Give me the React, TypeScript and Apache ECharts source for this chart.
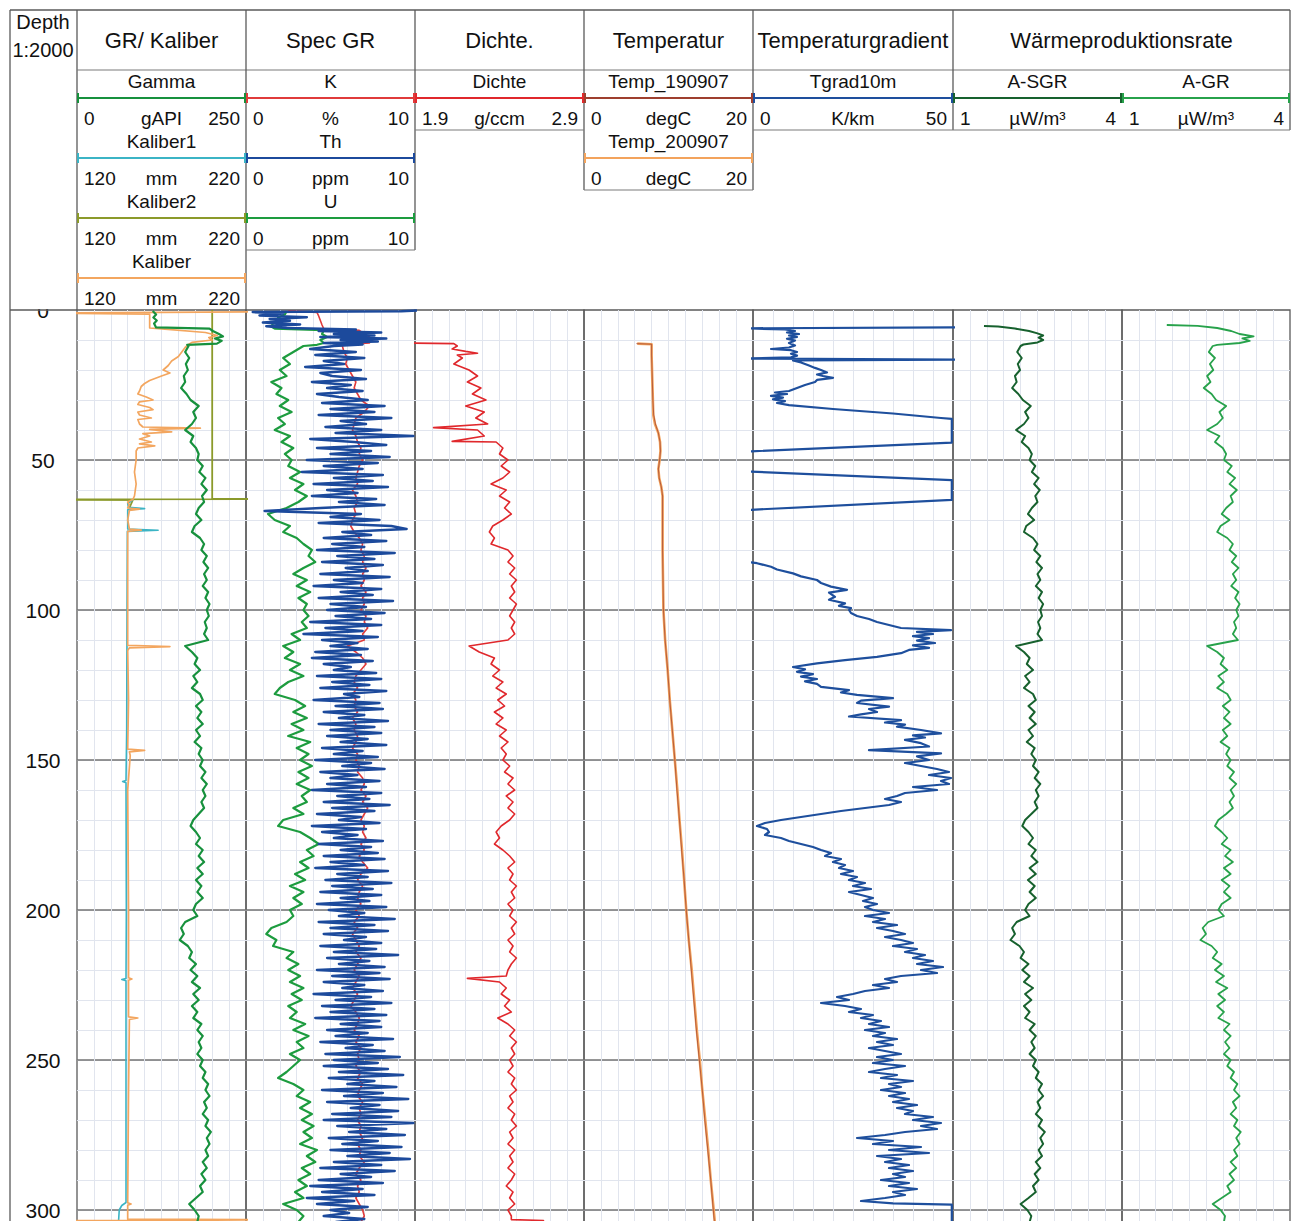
import React, { useEffect, useRef } from "react";
import * as echarts from "echarts";

type Pair = [number, number];

const FONT = "'Liberation Sans', Arial, Helvetica, sans-serif";

// ---------------- depth axis (m), scale 1:2000 ----------------
const DEPTH_MAX = 304;
const DEPTH_LABEL_STEP = 50;
const DEPTH_MINOR_STEP = 10;
const BODY_START = 12; // regularly sampled logs start here (2 m or 1 m spacing)

// ---------------- track titles ----------------
const TRACK_TITLES = ["GR/ Kaliber", "Spec GR", "Dichte.", "Temperatur", "Temperaturgradient", "Wärmeproduktionsrate"];

// ---------------- curve scales (header tick labels) ----------------
const GAMMA_SCALE = [0, 250];
const CALIPER_SCALE = [120, 220];
const SPEC_SCALE = [0, 10];
const DENSITY_SCALE = [1.9, 2.9];
const TEMP_SCALE = [0, 20];
const TGRAD_SCALE = [0, 50];
const HEAT_SCALE = [1, 4];

const CURVES = [
  { name: "Gamma", unit: "gAPI", scale: GAMMA_SCALE, track: 0, row: 0 },
  { name: "Kaliber1", unit: "mm", scale: CALIPER_SCALE, track: 0, row: 1 },
  { name: "Kaliber2", unit: "mm", scale: CALIPER_SCALE, track: 0, row: 2 },
  { name: "Kaliber", unit: "mm", scale: CALIPER_SCALE, track: 0, row: 3 },
  { name: "K", unit: "%", scale: SPEC_SCALE, track: 1, row: 0 },
  { name: "Th", unit: "ppm", scale: SPEC_SCALE, track: 1, row: 1 },
  { name: "U", unit: "ppm", scale: SPEC_SCALE, track: 1, row: 2 },
  { name: "Dichte", unit: "g/ccm", scale: DENSITY_SCALE, track: 2, row: 0 },
  { name: "Temp_190907", unit: "degC", scale: TEMP_SCALE, track: 3, row: 0 },
  { name: "Temp_200907", unit: "degC", scale: TEMP_SCALE, track: 3, row: 1 },
  { name: "Tgrad10m", unit: "K/km", scale: TGRAD_SCALE, track: 4, row: 0 },
  { name: "A-SGR", unit: "µW/m³", scale: HEAT_SCALE, track: 5, row: 0 },
  { name: "A-GR", unit: "µW/m³", scale: HEAT_SCALE, track: 6, row: 0 },
];

// ---------------- Gamma (gAPI) ----------------
const gammaHead: Pair[] = [
  [0.3, 112], [1.5, 117], [2.5, 113], [3.5, 118], [4.5, 114], [5.8, 117], [6.2, 196], [7, 201],
  [8, 210], [8.8, 216], [9.5, 204], [10.3, 214], [11.2, 207], [11.6, 163],
];
const gammaBody = [
  165, 160, 166, 161, 164, 158, 160, 154, 162, 168,
  180, 172, 176, 170, 160, 172, 168, 176, 180, 178,
  186, 181, 190, 184, 192, 185, 188, 180, 176, 184,
  174, 170, 182, 188, 184, 192, 187, 194, 188, 192,
  186, 194, 190, 196, 192, 195, 189, 192, 188, 194,
  160, 170, 178, 174, 182, 172, 178, 170, 182, 186,
  176, 184, 178, 186, 176, 182, 174, 184, 180, 186,
  182, 190, 184, 192, 186, 190, 184, 188, 180, 172,
  168, 176, 182, 176, 186, 180, 188, 178, 186, 176,
  184, 178, 186, 176, 172, 178, 160, 154, 158, 152,
  164, 170, 166, 176, 168, 178, 170, 182, 172, 180,
  170, 178, 172, 184, 178, 186, 180, 184, 178, 186,
  182, 190, 186, 194, 190, 196, 188, 192, 186, 194,
  190, 198, 192, 196, 190, 194, 186, 192, 184, 190,
  182, 186, 176, 166, 174, 180, 178,
];

// ---------------- calipers (mm) ----------------
const kaliberCurve: Pair[] = [
  [0.6, 240], [1.0, 100], [1.4, 163], [3, 163], [6, 163], [6.4, 172], [7.5, 196], [8.5, 203], [9.2, 198],
  [10, 200], [10.8, 188], [11.5, 186], [12.5, 184], [14, 182], [15.5, 180], [17, 176], [18.5, 174],
  [20, 171], [21, 175], [22, 170], [23.5, 163], [24.5, 160], [25.5, 158], [27, 157], [28, 156],
  [29, 161], [30, 165], [30.6, 157], [31.5, 156], [32.5, 163], [33.2, 165], [34, 156], [35, 157],
  [36, 164], [36.5, 156], [38, 157], [39, 159], [39.4, 193], [39.8, 163], [40.6, 176], [41.2, 159],
  [42, 163], [43, 157], [44, 164], [44.6, 157], [45.3, 166], [46, 156], [47, 155], [50, 155],
  [54, 154], [58, 155], [62, 154], [63.2, 153], [64, 150], [65, 151], [66, 150], [66.4, 157],
  [66.8, 151], [70, 150], [73, 151], [73.4, 158], [73.8, 150], [80, 150], [100, 150], [111.8, 150],
  [112.2, 175], [112.6, 151], [113.5, 150], [130, 150.5], [146.4, 150], [146.8, 160], [147.3, 151],
  [148.5, 151.5], [160, 150], [200, 150.5], [222.6, 150.5], [223, 152.5], [223.4, 150.5],
  [235.6, 150.5], [236, 156], [236.5, 151], [260, 150.5], [297.6, 150], [298, 152], [298.4, 150],
  [303, 150], [303.3, 240], [303.6, 100],
];
const kaliber1Curve: Pair[] = [
  [63.4, 153], [64.5, 150], [65.8, 150.5], [66.2, 160], [66.6, 150], [73, 150], [73.4, 168],
  [73.8, 149.8], [100, 149.6], [140, 149.4], [156.8, 149], [157.2, 147], [157.6, 149], [200, 149.2],
  [222.8, 149], [223.2, 146.5], [223.6, 149], [297.5, 149], [298.5, 146.5], [300, 145], [304.5, 144.5],
];
const kaliber2Curve: Pair[] = [
  [0, 200], [62.9, 200], [63.0, 245], [63.15, 95], [63.4, 153], [66, 151],
];

// ---------------- spectral gamma ----------------
const kHead: Pair[] = [
  [0.3, 2.5], [0.8, 4.2], [2, 4.3], [3.5, 4.4], [5, 4.5], [6.3, 4.6], [6.8, 6.7], [8, 7.0],
  [9, 7.3], [10, 7.5], [11, 7.3], [11.6, 5.8],
];
const kBody = [
  5.7, 5.8, 6.0, 5.9, 6.1, 6.3, 6.5, 6.4, 6.6, 6.8,
  7.3, 7.0, 6.5, 6.4, 6.3, 6.5, 6.6, 6.8, 6.7, 6.9,
  6.7, 6.6, 6.5, 6.6, 6.3, 6.5, 6.6, 6.4, 6.5, 6.3,
  6.2, 6.4, 6.7, 6.9, 6.8, 7.0, 6.9, 7.1, 6.9, 7.0,
  6.8, 7.1, 6.9, 7.0, 6.8, 7.1, 7.0, 7.2, 6.9, 7.0,
  6.0, 6.5, 6.9, 7.1, 6.8, 6.5, 6.4, 6.6, 6.3, 6.5,
  6.4, 6.6, 6.3, 6.5, 6.4, 6.6, 6.5, 6.3, 6.6, 6.5,
  6.7, 6.6, 6.9, 7.0, 6.8, 7.1, 6.9, 7.2, 7.0, 6.8,
  7.0, 6.9, 7.1, 6.8, 7.0, 6.7, 6.9, 7.2, 6.8, 6.6,
  6.9, 6.7, 6.6, 6.8, 6.5, 6.7, 6.4, 6.6, 6.3, 6.5,
  6.7, 6.5, 6.8, 6.6, 6.4, 6.7, 6.5, 6.3, 6.6, 6.4,
  6.2, 6.5, 6.7, 6.6, 6.4, 6.7, 6.5, 6.8, 6.6, 6.7,
  6.5, 6.8, 6.6, 6.9, 6.7, 6.6, 6.9, 6.7, 6.8, 6.6,
  6.8, 6.7, 6.9, 6.6, 6.8, 6.7, 7.0, 6.7, 6.5, 6.8,
  6.6, 6.7, 6.5, 6.7, 6.9, 7.0, 6.8,
];
const thHead: Pair[] = [
  [0, 10.6], [0.4, 9.2], [0.7, 0.4], [1.2, 2.2], [1.8, 0.8], [2.4, 3.6], [3, 1.4], [3.6, 2.6],
  [4.2, 1.0], [4.8, 3.2], [5.4, 1.2], [6.0, 2.4], [6.5, 6.5], [7, 4.3], [7.5, 8.0], [8, 5.2],
  [8.5, 7.6], [9, 4.4], [9.5, 8.3], [10, 5.6], [10.5, 7.8], [11, 4.6], [11.5, 6.9],
];
const thBody = [
  5.2, 3.8, 6.5, 4.1, 7.0, 4.6, 5.8, 3.5, 6.8, 4.4,
  5.1, 7.1, 3.9, 6.2, 4.8, 6.9, 4.2, 5.5, 7.2, 4.5,
  8.2, 5.0, 7.6, 4.3, 8.6, 5.6, 7.1, 4.7, 8.0, 5.3,
  9.9, 3.8, 6.4, 8.3, 4.2, 7.4, 5.0, 8.5, 3.6, 7.8,
  4.6, 6.9, 3.3, 8.1, 5.2, 7.5, 4.0, 8.4, 4.8, 6.6,
  3.9, 7.7, 5.5, 8.2, 4.4, 1.1, 6.8, 5.0, 7.9, 4.3,
  8.6, 9.5, 5.7, 7.4, 4.6, 8.3, 5.1, 7.0, 4.2, 8.8,
  5.4, 7.6, 4.5, 8.1, 5.9, 7.2, 4.4, 8.5, 5.2, 6.9,
  4.0, 8.0, 5.6, 7.5, 4.3, 8.7, 5.0, 7.1, 4.8, 8.2,
  5.3, 7.4, 3.8, 8.0, 4.7, 6.9, 3.4, 7.8, 4.5, 6.6,
  5.0, 7.2, 4.1, 6.8, 3.9, 7.5, 4.6, 6.2, 5.2, 7.7,
  4.2, 8.0, 5.1, 7.3, 4.4, 8.3, 5.8, 6.7, 4.0, 7.9,
  5.3, 8.1, 4.6, 7.0, 5.5, 8.4, 4.3, 7.6, 5.0, 8.0,
  4.8, 7.2, 5.6, 8.3, 4.5, 6.9, 5.2, 7.8, 4.1, 7.4,
  5.7, 8.2, 4.4, 6.6, 5.0, 7.9, 4.8, 7.1, 3.9, 8.0,
  5.4, 7.3, 4.6, 8.5, 5.1, 7.6, 4.2, 6.8, 5.5, 7.9,
  3.9, 7.1, 4.5, 6.6, 5.2, 8.1, 4.3, 7.4, 5.6, 7.8,
  4.6, 8.2, 5.0, 7.0, 4.1, 8.4, 5.4, 7.2, 4.7, 8.6,
  5.1, 7.5, 4.4, 8.0, 5.6, 7.3, 4.2, 8.3, 4.9, 7.0,
  5.5, 8.8, 4.3, 7.6, 5.0, 8.4, 4.6, 7.1, 5.8, 8.0,
  4.4, 7.7, 5.2, 9.0, 4.8, 7.3, 5.5, 8.2, 4.2, 7.9,
  5.1, 8.5, 4.6, 7.0, 5.7, 8.1, 4.0, 7.4, 5.3, 8.6,
  4.5, 7.6, 5.0, 8.3, 4.1, 7.9, 5.6, 8.0, 4.8, 7.2,
  5.3, 8.7, 4.4, 7.5, 5.9, 8.2, 4.7, 9.1, 5.2, 7.8,
  4.6, 8.4, 5.5, 9.3, 4.9, 7.6, 6.0, 8.9, 4.5, 8.1,
  5.8, 9.6, 4.8, 7.9, 6.2, 9.0, 5.1, 8.6, 4.6, 9.9,
  5.4, 8.3, 6.1, 9.4, 4.9, 7.8, 5.7, 9.2, 5.0, 8.5,
  6.0, 9.7, 5.2, 8.0, 4.4, 8.8, 5.6, 7.4, 4.3, 8.1,
  3.8, 6.9, 4.5, 7.6, 3.6, 6.4, 4.2, 7.2, 5.0, 6.1,
  4.6, 7.0, 5.3,
];
const uHead: Pair[] = [
  [0.4, 2.4], [1.5, 2.3], [2.5, 1.9], [3.5, 2.1], [4.5, 1.6], [5.5, 1.5], [6.2, 1.7], [6.7, 4.6],
  [8, 4.5], [9, 4.8], [10, 4.4], [11, 4.6], [11.6, 4.2],
];
const uBody = [
  3.4, 2.8, 2.2, 2.6, 2.0, 2.4, 1.5, 2.1, 1.8, 2.5,
  2.0, 2.7, 1.9, 2.3, 1.7, 2.6, 2.1, 2.8, 2.3, 2.7,
  2.5, 3.2, 2.6, 3.4, 2.9, 3.6, 3.1, 2.4, 1.3, 1.7,
  2.6, 2.2, 3.0, 3.4, 3.9, 3.7, 4.1, 3.4, 2.8, 3.6,
  3.0, 3.8, 3.1, 3.6, 3.4, 3.7, 3.3, 3.6, 2.7, 3.2,
  2.2, 2.8, 2.3, 3.2, 2.6, 3.4, 2.5, 2.0, 1.7, 2.9,
  3.5, 2.8, 3.6, 2.7, 3.4, 2.5, 3.8, 3.0, 3.7, 3.2,
  3.9, 3.1, 3.7, 3.0, 3.8, 3.3, 3.6, 2.8, 3.4, 2.2,
  1.9, 3.2, 3.8, 4.3, 3.6, 4.0, 3.2, 3.7, 2.9, 3.5,
  2.6, 3.4, 2.8, 3.3, 2.6, 2.8, 2.4, 1.5, 1.2, 1.8,
  1.6, 2.8, 2.4, 3.1, 2.5, 3.2, 2.6, 3.4, 2.7, 3.3,
  2.5, 3.0, 2.6, 3.5, 2.8, 3.7, 3.0, 3.4, 2.6, 3.2,
  2.8, 2.4, 1.9, 2.8, 3.4, 3.0, 3.8, 3.2, 3.9, 3.3,
  4.0, 3.4, 3.9, 3.2, 4.2, 3.6, 4.1, 3.3, 3.8, 3.1,
  3.6, 2.9, 3.4, 2.2, 3.0, 3.4, 3.1,
];

// ---------------- density (g/ccm), 2 m spacing from 16 m ----------------
const densityHead: Pair[] = [
  [11.0, 1.82], [11.2, 2.13], [12, 2.15], [13, 2.12], [13.8, 2.2], [14.4, 2.27], [15, 2.15],
];
const densityBody = [
  2.18, 2.13, 2.22, 2.27, 2.21, 2.29, 2.24, 2.32, 2.20, 2.31,
  2.26, 2.33, 2.27, 2.31, 2.38, 2.42, 2.40, 2.45, 2.41, 2.46,
  2.42, 2.35, 2.44, 2.40, 2.46, 2.43, 2.47, 2.42, 2.36, 2.34,
  2.37, 2.35, 2.45, 2.48, 2.45, 2.49, 2.46, 2.50, 2.47, 2.49,
  2.46, 2.50, 2.48, 2.46, 2.49, 2.47, 2.49, 2.45, 2.22, 2.28,
  2.37, 2.35, 2.40, 2.36, 2.42, 2.38, 2.44, 2.39, 2.43, 2.37,
  2.42, 2.38, 2.44, 2.40, 2.45, 2.41, 2.44, 2.42, 2.46, 2.43,
  2.48, 2.45, 2.49, 2.44, 2.48, 2.45, 2.49, 2.46, 2.41, 2.38,
  2.40, 2.37, 2.42, 2.46, 2.49, 2.45, 2.48, 2.46, 2.50, 2.47,
  2.49, 2.45, 2.48, 2.46, 2.50, 2.47, 2.49, 2.45, 2.48, 2.46,
  2.50, 2.47, 2.45, 2.44, 2.40, 2.44, 2.41, 2.46, 2.43, 2.47,
  2.39, 2.45, 2.49, 2.46, 2.50, 2.47, 2.49, 2.46, 2.48, 2.45,
  2.49, 2.47, 2.50, 2.46, 2.48, 2.45, 2.49, 2.47, 2.50, 2.46,
  2.48, 2.45, 2.49, 2.46, 2.48, 2.45, 2.49, 2.47, 2.44, 2.48,
  2.46, 2.49, 2.45, 2.47,
];
const densitySpikes: Pair[] = [
  [39.2, 2.01], [43.8, 2.12], [222.8, 2.21], [303.2, 2.47], [303.5, 2.66], [304.5, 2.66],
];

// ---------------- temperature logs (degC) ----------------
const temp190907Curve: Pair[] = [
  [11.2, 6.2], [11.4, 8.0], [15, 8.0], [20, 8.05], [25, 8.1], [30, 8.15], [35, 8.25], [38, 8.45],
  [41, 8.8], [44, 9.0], [47, 9.05], [50, 8.95], [53, 8.8], [56, 8.9], [59, 9.15], [62, 9.3],
  [70, 9.3], [80, 9.3], [90, 9.35], [100, 9.4], [110, 9.6], [120, 9.9], [130, 10.15], [140, 10.45],
  [150, 10.75], [160, 11.0], [170, 11.3], [180, 11.55], [190, 11.85], [200, 12.1], [210, 12.4],
  [220, 12.7], [230, 13.0], [240, 13.3], [250, 13.65], [260, 14.0], [270, 14.3], [280, 14.65],
  [290, 15.0], [300, 15.3], [304.5, 15.45],
];
const temp200907Curve: Pair[] = [
  [11.2, 6.3], [11.4, 8.0], [15, 8.0], [20, 8.05], [25, 8.1], [30, 8.15], [35, 8.2], [38, 8.4],
  [41, 8.8], [44, 9.0], [47, 9.05], [50, 8.95], [53, 8.8], [56, 8.9], [59, 9.15], [62, 9.3],
  [70, 9.3], [80, 9.3], [90, 9.35], [100, 9.4], [110, 9.6], [120, 9.9], [130, 10.15], [140, 10.45],
  [150, 10.75], [160, 11.05], [170, 11.3], [180, 11.6], [190, 11.85], [200, 12.1], [210, 12.4],
  [220, 12.75], [230, 13.05], [240, 13.35], [250, 13.7], [260, 14.0], [270, 14.35], [280, 14.7],
  [290, 15.0], [300, 15.35], [304.5, 15.5],
];

// ---------------- temperature gradient over 10 m (K/km) ----------------
const tgradHead: Pair[] = [
  [5.8, 52], [6.1, -2], [6.5, 8], [7, 10.5], [7.5, 8.5], [8, 11.5], [8.5, 9], [9, 11], [9.6, 8.5],
  [10.2, 10.5], [11, 9], [11.8, 10.5], [12.5, 9], [13, 4.5], [13.4, 9.5], [14, 11], [14.6, 9.5],
  [15.2, 11], [15.8, 9.5], [16.2, -2], [16.5, 52], [16.8, 10], [17.5, 12], [18.5, 14], [19.3, 15.5],
  [20, 17], [20.8, 18.5], [21.5, 16], [22, 17.5], [22.6, 20], [23.3, 16], [24, 15.5], [25, 13],
  [26, 11], [27, 9], [27.5, 5.5], [28, 8.5], [28.6, 4.5], [29.2, 7.5], [29.8, 5], [30.4, 8], [31, 6],
  [31.7, 9], [33, 20], [34.5, 35], [35.5, 43], [36, 47], [36.3, 49.7], [44.2, 49.7], [47.2, -2],
  [53.8, -2], [56.7, 49.7], [63.3, 49.7], [66.7, -2], [83.8, -2], [84.4, 1], [85.6, 4.5], [86.5, 6],
  [87.8, 10], [88.8, 12], [90, 16], [91, 17], [92.2, 19.5], [93.3, 23.5], [94.2, 19], [95.6, 20.5],
  [96.6, 19], [97.8, 23], [98.6, 21.5], [99.4, 24.5], [100, 24], [101, 24.5], [102, 26], [103, 29],
  [104, 31], [105, 34], [106, 37], [106.7, 49.5], [107.3, 41], [108, 45], [108.7, 40], [109.4, 44],
  [110.2, 41], [111, 45.5], [111.8, 40], [112.6, 44], [113.3, 39], [114.4, 37], [115.6, 31],
  [116.7, 23], [117.8, 16], [119, 10], [119.8, 13], [120.6, 11], [121.4, 15], [122.2, 12], [123, 16],
  [123.8, 13], [124.6, 16], [125.6, 17], [126.7, 24], [127.5, 22], [128.3, 26], [129.4, 35],
  [130.2, 27], [131, 26], [132.2, 34], [133, 29], [134, 31], [134.8, 27], [135.5, 24], [136.7, 37],
  [137.5, 33], [138.2, 38], [138.9, 36], [140, 42], [141.1, 47], [141.8, 40], [142.5, 43],
  [143.3, 38], [144.4, 42], [145.5, 44], [146.7, 29], [147.8, 47], [148.8, 41],
];
const TGRAD_BODY_START = 150;
const tgradBody = [
  44, 38, 42, 46, 49, 44, 49.5, 47, 49, 40,
  46, 38, 36, 33, 37, 34, 28, 22, 17, 12,
  7, 3, 1, 3.5, 4, 3, 7, 9, 12, 15,
  17, 19.5, 18, 22, 20, 23, 21.5, 25, 22, 26,
  24, 28, 25, 29.5, 24, 27, 30, 27.5, 31, 28,
  30, 34, 28, 33, 30, 36, 31, 35, 38, 33,
  37, 40, 35, 41, 38, 43, 40, 45, 41, 47.5,
  42, 46, 37, 33, 36, 30, 34, 28, 25, 21,
  24, 17, 23, 27, 24, 30, 27, 32, 29, 34,
  28, 33, 30, 36, 31, 35, 29, 33, 37, 31,
  35, 30, 38, 33, 29, 36, 32, 40, 34, 37,
  32, 38, 34, 39, 35, 41, 36, 40, 38, 45,
  40, 47, 42, 46, 38, 33, 26, 35, 30, 42,
  34, 44, 31, 37, 33, 39, 34, 40, 35, 38,
  32, 39, 34, 41, 35, 38, 33, 27,
];
const tgradTail: Pair[] = [[297.8, 35], [298.2, 49.7], [304.5, 49.7]];

// ---------------- heat production (µW/m³) ----------------
const asgrHead: Pair[] = [
  [5.3, 1.55], [5.5, 1.8], [6.2, 2.1], [7, 2.35], [7.8, 2.5], [8.5, 2.6], [9.2, 2.52], [10, 2.6],
  [10.8, 2.5], [11.5, 2.25],
];
const asgrBody = [
  2.20, 2.14, 2.22, 2.15, 2.19, 2.10, 2.13, 2.05, 2.16, 2.24,
  2.38, 2.28, 2.34, 2.26, 2.12, 2.28, 2.22, 2.34, 2.40, 2.36,
  2.46, 2.40, 2.52, 2.44, 2.54, 2.46, 2.50, 2.40, 2.33, 2.44,
  2.30, 2.26, 2.42, 2.50, 2.44, 2.55, 2.48, 2.58, 2.50, 2.55,
  2.47, 2.58, 2.52, 2.60, 2.55, 2.58, 2.51, 2.55, 2.50, 2.58,
  2.12, 2.26, 2.36, 2.31, 2.42, 2.28, 2.36, 2.26, 2.42, 2.47,
  2.34, 2.45, 2.36, 2.47, 2.34, 2.42, 2.31, 2.45, 2.39, 2.47,
  2.42, 2.52, 2.45, 2.55, 2.47, 2.52, 2.45, 2.50, 2.39, 2.28,
  2.23, 2.34, 2.42, 2.34, 2.47, 2.39, 2.50, 2.36, 2.47, 2.33,
  2.45, 2.36, 2.47, 2.34, 2.28, 2.36, 2.13, 2.05, 2.10, 2.02,
  2.18, 2.26, 2.20, 2.34, 2.23, 2.36, 2.26, 2.42, 2.28, 2.39,
  2.26, 2.36, 2.28, 2.45, 2.36, 2.47, 2.39, 2.45, 2.36, 2.47,
  2.42, 2.52, 2.47, 2.58, 2.52, 2.60, 2.50, 2.55, 2.47, 2.58,
  2.52, 2.63, 2.55, 2.60, 2.52, 2.58, 2.47, 2.55, 2.45, 2.52,
  2.42, 2.47, 2.34, 2.20, 2.32, 2.39, 2.36,
];
const agrHead: Pair[] = [
  [5.0, 1.8], [5.3, 2.35], [6, 2.7], [7, 2.95], [8, 3.1], [8.8, 3.35], [9.5, 3.15], [10.3, 3.28],
  [11, 3.1], [11.6, 2.7],
];
const agrBody = [
  2.62, 2.55, 2.66, 2.57, 2.63, 2.52, 2.58, 2.46, 2.60, 2.68,
  2.86, 2.74, 2.80, 2.70, 2.52, 2.74, 2.66, 2.80, 2.86, 2.82,
  2.96, 2.88, 3.02, 2.92, 3.05, 2.94, 2.98, 2.86, 2.78, 2.92,
  2.76, 2.70, 2.88, 2.98, 2.92, 3.04, 2.96, 3.08, 2.98, 3.04,
  2.95, 3.08, 3.02, 3.10, 3.04, 3.08, 3.00, 3.04, 2.98, 3.07,
  2.52, 2.70, 2.82, 2.76, 2.88, 2.72, 2.82, 2.70, 2.88, 2.94,
  2.80, 2.92, 2.82, 2.94, 2.80, 2.88, 2.76, 2.92, 2.86, 2.94,
  2.88, 3.00, 2.92, 3.04, 2.94, 3.00, 2.92, 2.98, 2.86, 2.72,
  2.66, 2.78, 2.88, 2.78, 2.94, 2.84, 2.98, 2.82, 2.94, 2.78,
  2.92, 2.82, 2.94, 2.78, 2.72, 2.82, 2.54, 2.44, 2.50, 2.40,
  2.60, 2.70, 2.62, 2.78, 2.66, 2.82, 2.68, 2.88, 2.72, 2.84,
  2.70, 2.82, 2.72, 2.92, 2.82, 2.94, 2.84, 2.92, 2.82, 2.94,
  2.88, 3.00, 2.94, 3.06, 3.00, 3.10, 2.98, 3.04, 2.94, 3.06,
  3.00, 3.12, 3.04, 3.10, 3.00, 3.06, 2.94, 3.04, 2.92, 3.00,
  2.88, 2.94, 2.78, 2.62, 2.76, 2.84, 2.82,
];

// ---------------- styling ----------------
const COLORS: Record<string, string> = {
  Gamma: "#17913d",
  Kaliber1: "#3bb4c5",
  Kaliber2: "#8b9a2a",
  Kaliber: "#f3a65f",
  K: "#e03b3b",
  Th: "#1c4a9c",
  U: "#1d9c3f",
  Dichte: "#e0282c",
  Temp_190907: "#9e3f2e",
  Temp_200907: "#f3a35c",
  Tgrad10m: "#1e4f9d",
  "A-SGR": "#17612e",
  "A-GR": "#27a24b",
};
const WIDTHS: Record<string, number> = {
  Gamma: 2.2, Kaliber1: 1.6, Kaliber2: 1.8, Kaliber: 1.7, K: 1.6, Th: 2.5, U: 2.2, Dichte: 1.6,
  Temp_190907: 1, Temp_200907: 2.6, Tgrad10m: 2.2, "A-SGR": 2, "A-GR": 1.8,
};
const OPACITY: Record<string, number> = { Temp_190907: 0.7 };
const DRAW_ORDER = [
  "Kaliber2", "Kaliber1", "Kaliber", "Gamma", "U", "K", "Th", "Dichte",
  "Temp_200907", "Temp_190907", "Tgrad10m", "A-SGR", "A-GR",
];

// Merge pieces of a log into [value, depth] points sorted by depth.
function logPoints(pieces: Pair[][], body: number[] = [], start = BODY_START, step = 2): number[][] {
  const pts: Pair[] = [];
  pieces.forEach((p) => pts.push(...p));
  body.forEach((v, i) => pts.push([start + i * step, v]));
  pts.sort((a, b) => a[0] - b[0]);
  return pts.map(([d, v]) => [v, d]);
}

function buildOption() {
  const PLOT_TOP = 310;
  const PX_PER_M = 3;
  const tracks = [
    { x0: 77, x1: 246 },
    { x0: 246, x1: 415 },
    { x0: 415, x1: 584 },
    { x0: 584, x1: 753 },
    { x0: 753, x1: 953 },
    { x0: 953, x1: 1122 },
    { x0: 1122, x1: 1290 },
  ];
  const minorColor = "#e1e5ee";

  const grid = tracks.map((t) => ({
    left: t.x0,
    top: PLOT_TOP,
    width: t.x1 - t.x0,
    height: DEPTH_MAX * PX_PER_M,
    show: true,
    borderColor: "#5a5a5a",
    borderWidth: 1.3,
    backgroundColor: "rgba(0,0,0,0)",
    containLabel: false,
    outerBoundsMode: "none",
  }));

  const xAxis: any[] = tracks.map((_, i) => ({
    type: "value",
    gridIndex: i,
    min: 0,
    max: 10,
    interval: 1,
    axisLine: { show: false },
    axisTick: { show: false },
    axisLabel: { show: false },
    splitLine: { show: true, showMinLine: false, showMaxLine: false, lineStyle: { color: minorColor, width: 1 } },
  }));
  CURVES.forEach((c) => {
    xAxis.push({ type: "value", gridIndex: c.track, min: c.scale[0], max: c.scale[1], show: false });
  });

  // per track: a light 10 m grid axis (right side, unlabelled), then the 50 m depth axis used by the logs
  const yAxis: any[] = [];
  tracks.forEach((_, i) => {
    yAxis.push({
      type: "value",
      gridIndex: i,
      position: "right",
      inverse: true,
      min: 0,
      max: DEPTH_MAX,
      interval: DEPTH_MINOR_STEP,
      axisLine: { show: false },
      axisTick: { show: false },
      axisLabel: { show: false },
      splitLine: { show: true, showMinLine: false, showMaxLine: false, lineStyle: { color: minorColor, width: 1 } },
    });
    yAxis.push({
      type: "value",
      gridIndex: i,
      position: "left",
      inverse: true,
      min: 0,
      max: DEPTH_MAX,
      interval: DEPTH_LABEL_STEP,
      axisLine: { show: false },
      axisTick: { show: false },
      splitLine: { show: true, showMinLine: false, showMaxLine: false, lineStyle: { color: "#737373", width: 1.5 } },
      axisLabel:
        i === 0
          ? {
              show: true,
              fontSize: 21,
              fontFamily: FONT,
              color: "#111",
              align: "center",
              margin: 34,
              formatter: (v: number) => (v % DEPTH_LABEL_STEP === 0 ? String(v) : ""),
            }
          : { show: false },
    });
  });

  const data: Record<string, number[][]> = {
    Gamma: logPoints([gammaHead], gammaBody),
    Kaliber1: logPoints([kaliber1Curve]),
    Kaliber2: logPoints([kaliber2Curve]),
    Kaliber: logPoints([kaliberCurve]),
    K: logPoints([kHead], kBody),
    Th: logPoints([thHead], thBody, BODY_START, 1),
    U: logPoints([uHead], uBody),
    Dichte: logPoints([densityHead, densitySpikes], densityBody, 16, 2),
    Temp_190907: logPoints([temp190907Curve]),
    Temp_200907: logPoints([temp200907Curve]),
    Tgrad10m: logPoints([tgradHead, tgradTail], tgradBody, TGRAD_BODY_START, 1),
    "A-SGR": logPoints([asgrHead], asgrBody),
    "A-GR": logPoints([agrHead], agrBody),
  };

  const series = DRAW_ORDER.map((name) => {
    const idx = CURVES.findIndex((c) => c.name === name);
    return {
      type: "line",
      name,
      xAxisIndex: tracks.length + idx,
      yAxisIndex: CURVES[idx].track * 2 + 1,
      data: data[name],
      symbol: "none",
      showSymbol: false,
      silent: true,
      clip: true,
      animation: false,
      lineStyle: { color: COLORS[name], width: WIDTHS[name], join: "round", opacity: OPACITY[name] ?? 1 },
    };
  });

  // ---------------- header block ----------------
  const els: any[] = [];
  const line = (x1: number, y1: number, x2: number, y2: number, stroke = "#5a5a5a", lineWidth = 1.3) =>
    els.push({ type: "line", silent: true, z: 100, shape: { x1, y1, x2, y2 }, style: { stroke, lineWidth } });
  const text = (x: number, y: number, t: string, fontSize: number, align = "center") =>
    els.push({
      type: "text",
      silent: true,
      z: 101,
      x,
      y,
      style: { text: t, fontSize, fontFamily: FONT, fill: "#111", align, verticalAlign: "middle" },
    });

  const TOP = 10;
  const TITLE_LINE = 70;
  const ROW_H = 60;
  const LEFT = 10;
  const RIGHT = tracks[tracks.length - 1].x1;

  // white cover so the depth label at 0 m only peeks below the header
  els.push({ type: "rect", silent: true, z: 99, shape: { x: LEFT + 1, y: TOP + 1, width: 65, height: PLOT_TOP - TOP - 2 }, style: { fill: "#ffffff" } });

  const rowsPerTrack = tracks.map((_, i) => CURVES.filter((c) => c.track === i).length);
  const boxBottom = rowsPerTrack.map((n) => TITLE_LINE + n * ROW_H);

  // frame
  line(LEFT, TOP, RIGHT, TOP);
  line(LEFT, TOP, LEFT, 1221);
  line(LEFT, PLOT_TOP, tracks[0].x0, PLOT_TOP);
  line(tracks[0].x0, TOP, tracks[0].x0, PLOT_TOP);
  line(tracks[0].x0, TITLE_LINE, RIGHT, TITLE_LINE, "#7a7a7a", 1.1);
  for (let i = 0; i < tracks.length; i++) {
    const t = tracks[i];
    const nextBottom = i + 1 < tracks.length ? boxBottom[i + 1] : 0;
    // right edge of each header box (the two heat production tracks share one box)
    if (i !== 5) line(t.x1, TOP, t.x1, Math.max(boxBottom[i], nextBottom));
    if (boxBottom[i] < PLOT_TOP) line(t.x0, boxBottom[i], t.x1, boxBottom[i], "#7a7a7a", 1.1);
  }

  // titles
  const titleSpans = [[0, 0], [1, 1], [2, 2], [3, 3], [4, 4], [5, 6]];
  TRACK_TITLES.forEach((title, k) => {
    const [a, b] = titleSpans[k];
    text((tracks[a].x0 + tracks[b].x1) / 2, 40, title, 22);
  });

  // depth column title
  text(43, 22, "Depth", 20);
  text(43, 50, "1:2000", 20);

  // curve legends
  CURVES.forEach((c) => {
    const t = tracks[c.track];
    const yLine = 98 + c.row * ROW_H;
    const color = COLORS[c.name];
    text((t.x0 + t.x1) / 2, yLine - 17, c.name, 19);
    line(t.x0, yLine, t.x1, yLine, color, 2.2);
    line(t.x0 + 1, yLine - 5, t.x0 + 1, yLine + 5, color, 2);
    line(t.x1 - 1, yLine - 5, t.x1 - 1, yLine + 5, color, 2);
    text(t.x0 + 7, yLine + 20, String(c.scale[0]), 19, "left");
    text((t.x0 + t.x1) / 2, yLine + 20, c.unit, 19);
    text(t.x1 - 6, yLine + 20, String(c.scale[1]), 19, "right");
  });

  return {
    animation: false,
    backgroundColor: "#ffffff",
    grid,
    xAxis,
    yAxis,
    series,
    graphic: { elements: els },
  };
}

export default function App() {
  const ref = useRef<HTMLDivElement | null>(null);
  useEffect(() => {
    if (!ref.current) return;
    const chart = echarts.init(ref.current, undefined, { renderer: "svg" });
    chart.setOption(buildOption() as any);
    return () => chart.dispose();
  }, []);
  return (
    <div
      ref={ref}
      style={{ position: "fixed", left: 0, top: 0, width: 1294, height: 1221, background: "#ffffff" }}
    />
  );
}
